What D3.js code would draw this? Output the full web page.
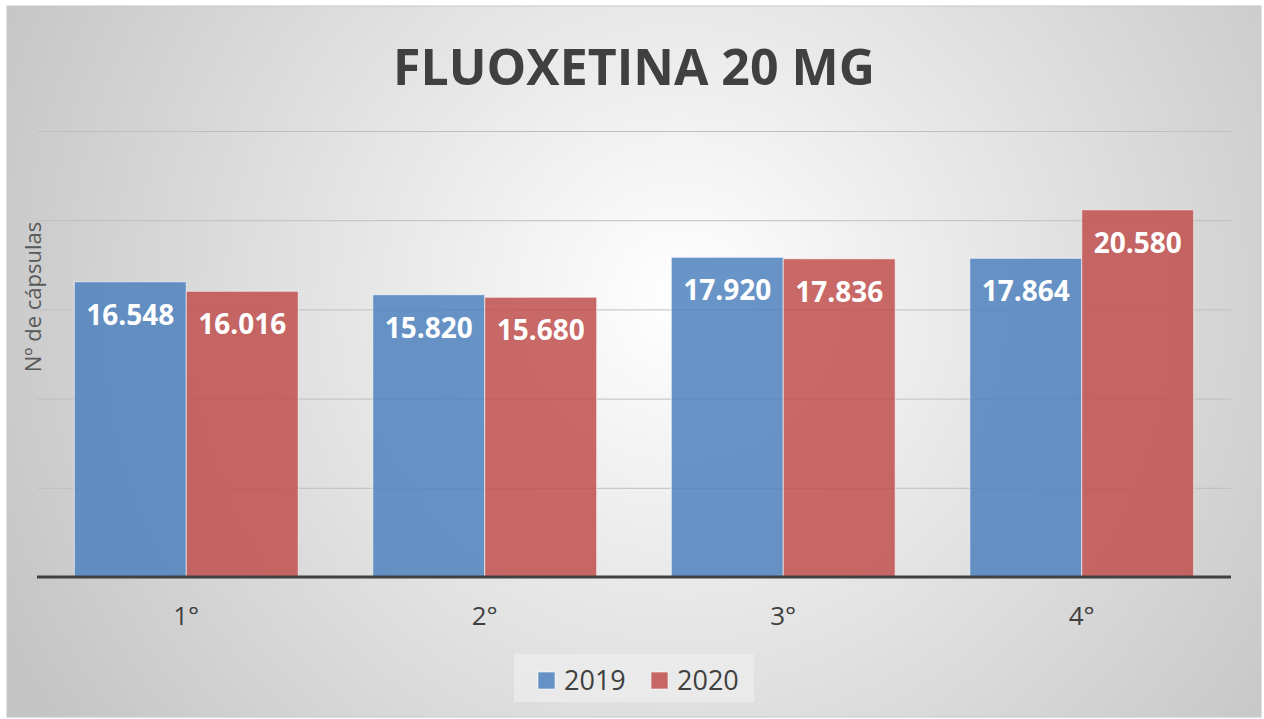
<!DOCTYPE html>
<html>
<head>
<meta charset="utf-8">
<script src="https://cdn.jsdelivr.net/npm/d3@7"></script>
<style>
  body { margin: 0; background: #ffffff; }
  svg text { font-family: "Open Sans", "Noto Sans", sans-serif; }
</style>
</head>
<body>
<svg id="chart" width="1264" height="719"></svg>
<script>
// data
var categories = ['1°', '2°', '3°', '4°']
var seriesNames = ['2019', '2020']
var values2019 = [16548, 15820, 17920, 17864]
var values2020 = [16016, 15680, 17836, 20580]
var labels2019 = ['16.548', '15.820', '17.920', '17.864']
var labels2020 = ['16.016', '15.680', '17.836', '20.580']
var yTicks = [0, 5000, 10000, 15000, 20000, 25000]
var colors = ['#4F81BD', '#C0504D']

var svg = d3.select('#chart')

// background gradient
var defs = svg.append('defs')
var grad = defs.append('radialGradient').attr('id', 'bg')
    .attr('gradientUnits', 'userSpaceOnUse')
    .attr('cx', 680).attr('cy', 300).attr('r', 760)
grad.append('stop').attr('offset', '0%').attr('stop-color', '#ffffff')
grad.append('stop').attr('offset', '100%').attr('stop-color', '#c4c4c4')

svg.append('rect')
    .attr('x', 7).attr('y', 6)
    .attr('width', 1254).attr('height', 711)
    .attr('fill', 'url(#bg)')
    .attr('stroke', '#c8c8c8')
    .attr('stroke-width', 1)

var plotLeft = 37
var plotRight = 1231
var plotBottom = 577
var plotTop = 131

var x0 = d3.scaleBand().domain(categories).range([plotLeft, plotRight]).paddingInner(0.25).paddingOuter(0.125)
var x1 = d3.scaleBand().domain(seriesNames).range([0, x0.bandwidth()])
var y = d3.scaleLinear().domain([0, 25000]).range([plotBottom, plotTop])

// gridlines
var yAxis = d3.axisLeft(y).tickValues(yTicks).tickSize(-(plotRight - plotLeft)).tickFormat('')
var gridG = svg.append('g').attr('transform', `translate(${plotLeft},0)`).call(yAxis)
gridG.select('.domain').remove()
gridG.selectAll('.tick line').attr('stroke', '#bfbfbf').attr('stroke-width', 1)

// bars
var series = [values2019, values2020]
var seriesLabels = [labels2019, labels2020]
series.forEach(function (vals, si) {
    var g = svg.append('g')
    categories.forEach(function (c, i) {
        var bx = x0(c) + x1(seriesNames[si])
        g.append('rect')
            .attr('x', bx)
            .attr('y', y(vals[i]))
            .attr('width', x1.bandwidth())
            .attr('height', y(0) - y(vals[i]))
            .attr('fill', colors[si])
            .attr('fill-opacity', 0.85)
            .attr('stroke', '#ffffff')
            .attr('stroke-opacity', 0.6)
            .attr('stroke-width', 1)
        g.append('text')
            .attr('x', bx + x1.bandwidth() / 2)
            .attr('y', y(vals[i]) + 43)
            .attr('text-anchor', 'middle')
            .attr('fill', '#ffffff')
            .attr('font-weight', 'bold')
            .attr('font-size', '28px')
            .text(seriesLabels[si][i])
    })
})

// x axis
var xAxis = d3.axisBottom(x0).tickSize(0).tickPadding(30)
var axisG = svg.append('g').attr('transform', `translate(0,${plotBottom})`).call(xAxis)
axisG.select('.domain').remove()
axisG.selectAll('text').attr('font-size', '26px').attr('fill', '#404040')
    .attr('font-family', '"Open Sans", sans-serif')
svg.append('line')
    .attr('x1', plotLeft).attr('x2', plotRight)
    .attr('y1', plotBottom).attr('y2', plotBottom)
    .attr('stroke', '#404040').attr('stroke-width', 3)

// title
svg.append('text')
    .attr('x', 634).attr('y', 85)
    .attr('text-anchor', 'middle')
    .attr('font-size', '50px')
    .attr('font-weight', 'bold')
    .attr('fill', '#404040')
    .text('FLUOXETINA 20 MG')

// y axis title
svg.append('text')
    .attr('transform', 'translate(41,297) rotate(-90)')
    .attr('text-anchor', 'middle')
    .attr('font-size', '22px')
    .attr('fill', '#595959')
    .text('Nº de cápsulas')

// legend
var legend = svg.append('g')
legend.append('rect')
    .attr('x', 514).attr('y', 654).attr('width', 240).attr('height', 48)
    .attr('fill', '#f0f0f0').attr('fill-opacity', 0.6)
var legendX = [538, 651]
seriesNames.forEach(function (s, i) {
    legend.append('rect')
        .attr('x', legendX[i]).attr('y', 672)
        .attr('width', 17).attr('height', 17)
        .attr('fill', colors[i]).attr('fill-opacity', 0.85)
        .attr('stroke', '#ffffff').attr('stroke-opacity', 0.6)
    legend.append('text')
        .attr('x', legendX[i] + 26).attr('y', 690)
        .attr('font-size', '27px')
        .attr('fill', '#404040')
        .text(s)
})
</script>
</body>
</html>
